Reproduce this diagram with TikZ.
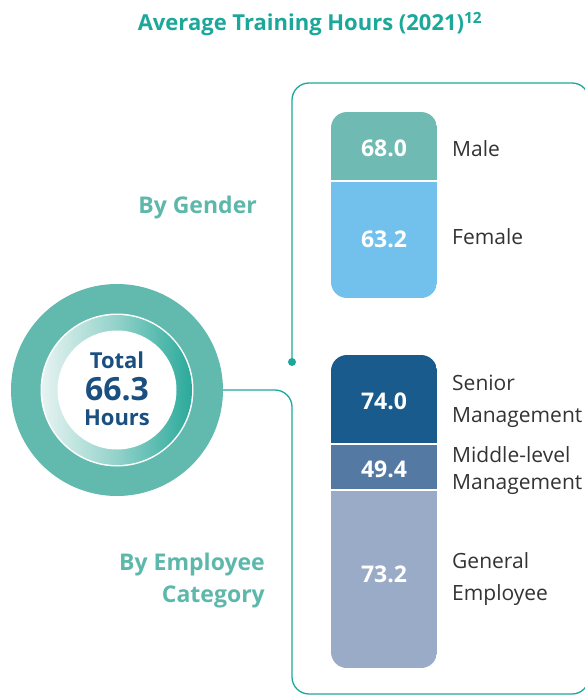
\documentclass[tikz,border=0pt]{standalone}
\usepackage{fontspec}
\setmainfont{Open Sans}
\usetikzlibrary{calc}
\definecolor{titleteal}{HTML}{1BA89A}
\definecolor{labteal}{HTML}{5DB8AB}
\definecolor{ringteal}{HTML}{62B9AE}
\definecolor{gradteal}{HTML}{2AA99A}
\definecolor{gradlight}{HTML}{E6F3F1}
\definecolor{darkblue}{HTML}{1A4F80}
\definecolor{malec}{HTML}{6FBAB3}
\definecolor{femalec}{HTML}{72C1EC}
\definecolor{seniorc}{HTML}{185B8C}
\definecolor{middlec}{HTML}{5479A3}
\definecolor{generalc}{HTML}{9AABC8}
\definecolor{labgray}{HTML}{333333}
\tikzset{
  val/.style={text=white, font=\bfseries\fontsize{23}{26}\selectfont, inner sep=0pt},
  lab/.style={text=labgray, font=\fontsize{21}{32}\selectfont, anchor=west, align=left, inner sep=0pt},
  grp/.style={text=labteal, font=\bfseries\fontsize{23}{32}\selectfont, anchor=east, align=right, inner sep=0pt},
  bracket/.style={draw=titleteal, line width=1.3pt, rounded corners=17pt},
}
\begin{document}
\begin{tikzpicture}[x=1pt,y=-1pt]
\useasboundingbox (0,0) rectangle (584,695);
% title
\node[text=titleteal, font=\bfseries\fontsize{22}{26}\selectfont, inner sep=0pt] (title) at (310,24) {Average Training Hours (2021)\textsuperscript{12}};

% circle
\fill[ringteal] (117,390) circle (106);
\fill[white] (117,390) circle (76.5);
\shade[left color=gradlight, right color=gradteal, middle color=gradteal!45!gradlight] (117,390) circle (75);
\fill[white] (117,390) circle (59.5);
\node[circle, minimum size=212pt, inner sep=0pt] (ring) at (117,390) {};
\node[text=darkblue, font=\bfseries\fontsize{22}{25}\selectfont, inner sep=0pt] (total) at (117,360) {Total};
\node[text=darkblue, font=\bfseries\fontsize{32}{34}\selectfont, inner sep=0pt] (num) at (117,389) {66.3};
\node[text=darkblue, font=\bfseries\fontsize{22}{25}\selectfont, inner sep=0pt] (hours) at (117,418) {Hours};

% brackets
\fill[titleteal] (292,362) circle (4) coordinate (dot);
\coordinate (tr) at (589,120);
\draw[bracket] (dot) |- (589,83) -- (tr);
\coordinate (br) at (589,650);
\draw[bracket] (ring.east) -| (292,694) -| (br);

% gender bar
\begin{scope}
\clip[rounded corners=16pt] (331,112) rectangle (437,298);
\fill[malec] (331,112) rectangle (437,181);
\fill[femalec] (331,181) rectangle (437,298);
\draw[white, line width=1.5pt] (331,181) -- (437,181);
\end{scope}
\node[val] (male) at (384,148) {68.0};
\node[val] (female) at (384,239) {63.2};
\node[lab] (malel) at (452,149) {Male};
\node[lab] (femalel) at (452,237) {Female};

% category bar
\begin{scope}
\clip[rounded corners=16pt] (331,355) rectangle (437,668);
\fill[seniorc] (331,355) rectangle (437,444);
\fill[middlec] (331,444) rectangle (437,490);
\fill[generalc] (331,490) rectangle (437,668);
\draw[white, line width=1.5pt] (331,444) -- (437,444);
\draw[white, line width=1.5pt] (331,490) -- (437,490);
\end{scope}
\node[val] (senior) at (384,401) {74.0};
\node[val] (middle) at (384,469) {49.4};
\node[val] (general) at (384,574) {73.2};
\node[lab] (seniorl) at (452,401) {Senior\\Management};
\node[lab, font=\fontsize{21}{27}\selectfont] (middlel) at (452,471) {Middle-level\\Management};
\node[lab] (generall) at (452,579) {General\\Employee};

% group labels
\node[grp] (gender) at (257,208) {By Gender};
\node[grp] (cat) at (265,581) {By Employee\\Category};
\end{tikzpicture}
\end{document}
